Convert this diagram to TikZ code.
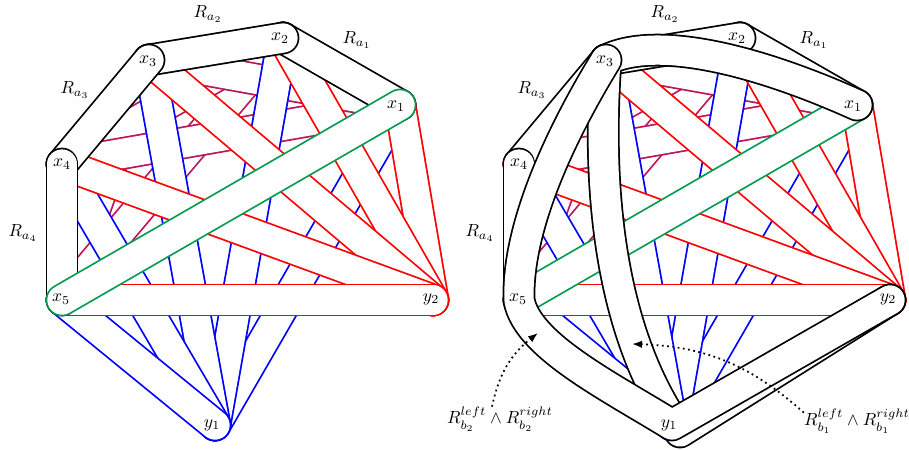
\documentclass[tikz,border=0pt]{standalone}
\usepackage{amsmath}
\usepackage{xcolor}
\usepackage{tikz}
\usetikzlibrary{arrows.meta,positioning}

\definecolor{relpurple}{RGB}{190,20,90}
\definecolor{relgreen}{RGB}{0,155,80}

\begin{document}
\begin{tikzpicture}[
    x=0.2mm, y=-0.2mm,
    band/.style={double=white, double distance=5.85mm, line width=1pt, line cap=round, line join=round},
    vlabel/.style={inner sep=0pt},
    rlabel/.style={inner sep=0pt},
    pointer/.style={-{Latex[length=2mm]}, dotted, line width=1pt}
  ]
    \useasboundingbox (0,0) rectangle (909,449);

    % both panels share the same relation bands
    \foreach \pre/\dx in {L/0, R/457} {
      \begin{scope}[shift={(\dx,0)}]
        \coordinate (\pre x1) at (400,105);
        \coordinate (\pre x2) at (283,38);
        \coordinate (\pre x3) at (149,60);
        \coordinate (\pre x4) at (62,164);
        \coordinate (\pre x5) at (62,300);
        \coordinate (\pre y1) at (215,425);
        \coordinate (\pre y2) at (433,300);

        \foreach \p/\q in {x3/x5, x2/x5, x2/x4, x1/x4, x1/x3}
          \draw[band, relpurple] (\pre\p) -- (\pre\q);
        \foreach \p in {x1, x2, x3, x4, x5}
          \draw[band, blue] (\pre y1) -- (\pre\p);
        \foreach \p in {x1, x2, x3, x4, x5}
          \draw[band, red] (\pre y2) -- (\pre\p);
        \foreach \p/\q in {x1/x2, x3/x2, x4/x3, x5/x4}
          \draw[band] (\pre\p) -- (\pre\q);
        \draw[band, relgreen] (\pre x5) -- (\pre x1);
      \end{scope}
    }

    % R_b bands of the right panel
    \begin{scope}[shift={(457,0)}]
      \coordinate (Rb1turn) at (223,432);
      \draw[band] (Rx1) .. controls (300,60) and (200,35) .. (Rx3)
        .. controls (140,180) and (150,330) .. (Rb1turn) -- (Ry2);
      \draw[band] (Rx3) .. controls (100,140) and (60,230) .. (Rx5)
        .. controls (70,345) and (150,385) .. (Ry1) -- (Ry2);
    \end{scope}

    \foreach \pre/\dx in {L/0, R/457} {
      \begin{scope}[shift={(\dx,0)}]
        \node[vlabel] (\pre lx1) at (396,106) {$x_1$};
        \node[vlabel] (\pre lx2) at (280,38) {$x_2$};
        \node[vlabel] (\pre lx3) at (148,61) {$x_3$};
        \node[vlabel] (\pre lx4) at (62,164) {$x_4$};
        \node[vlabel] (\pre lx5) at (61,299) {$x_5$};
        \node[vlabel] (\pre ly1) at (212,425) {$y_1$};
        \node[vlabel] (\pre ly2) at (431,299) {$y_2$};
        \node[rlabel] (\pre la1) at (357,40) {$R_{a_1}$};
        \node[rlabel] (\pre la2) at (208,14) {$R_{a_2}$};
        \node[rlabel] (\pre la3) at (75,90) {$R_{a_3}$};
        \node[rlabel] (\pre la4) at (23,233) {$R_{a_4}$};
      \end{scope}
    }

    \node[rlabel] (b2lab) at (500,419) {$R^{left}_{b_2}\wedge R^{right}_{b_2}$};
    \node[rlabel] (b1lab) at (857,421) {$R^{left}_{b_1}\wedge R^{right}_{b_1}$};
    \coordinate (b2tip) at (538,333);
    \coordinate (b1tip) at (632,344);
    \draw[pointer] ([xshift=-1.6mm]b2lab.north) to[bend left=20] (b2tip);
    \draw[pointer] ([yshift=-0.8mm]b1lab.north west) to[bend right=20] (b1tip);
  \end{tikzpicture}
\end{document}
